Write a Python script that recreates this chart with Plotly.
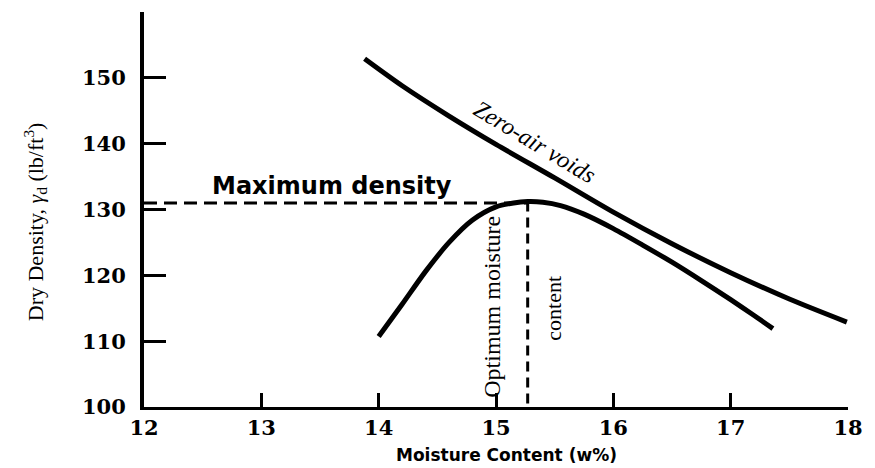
import plotly.graph_objects as go

# Compaction test data: dry density vs moisture content
moisture = [14.0, 14.2, 14.4, 14.6, 14.8, 15.0, 15.15, 15.27, 15.4, 15.55,
            15.75, 16.0, 16.25, 16.5, 16.75, 17.0, 17.2, 17.36]
dry_density = [110.7, 115.6, 120.6, 125.0, 128.4, 130.4, 131.0, 131.2, 131.1, 130.6,
               129.3, 127.1, 124.6, 122.0, 119.2, 116.3, 113.9, 111.9]

# Zero-air-voids curve
zav_moisture = [13.88, 14.2, 14.6, 15.0, 15.5, 16.0, 16.5, 17.0, 17.5, 17.99]
zav_density = [152.9, 148.8, 144.2, 139.9, 134.8, 129.6, 124.8, 120.4, 116.4, 112.9]

# Optimum point
opt_moisture = 15.27
max_density = 131.0

x_ticks = [12, 13, 14, 15, 16, 17, 18]
x_ticktext = ["12", "13", "14", "15", "16", "17", "18"]
y_ticks = [100, 110, 120, 130, 140, 150, 160]
y_ticktext = ["100", "110", "120", "130", "140", "150", ""]

fig = go.Figure()

fig.add_trace(go.Scatter(
    x=zav_moisture, y=zav_density, mode="lines",
    line=dict(color="black", width=5, shape="spline", smoothing=0.8),
    hoverinfo="skip", showlegend=False))

fig.add_trace(go.Scatter(
    x=moisture, y=dry_density, mode="lines",
    line=dict(color="black", width=5, shape="spline", smoothing=0.8),
    hoverinfo="skip", showlegend=False))

# Maximum density guide line
fig.add_trace(go.Scatter(
    x=[x_ticks[0], opt_moisture], y=[max_density, max_density], mode="lines",
    line=dict(color="black", width=3, dash="13px,7px"),
    hoverinfo="skip", showlegend=False))

# Optimum moisture guide line
fig.add_trace(go.Scatter(
    x=[opt_moisture, opt_moisture], y=[max(dry_density), y_ticks[0]], mode="lines",
    line=dict(color="black", width=3, dash="10px,6px"),
    hoverinfo="skip", showlegend=False))

label_font = dict(family="DejaVu Serif", size=21, color="black", weight="bold")

fig.update_xaxes(
    range=[12, 18], tickvals=x_ticks, ticktext=x_ticktext,
    showgrid=False, zeroline=False, showline=True, linecolor="black", linewidth=3,
    ticks="inside", ticklen=14, tickwidth=3, tickcolor="black",
    tickfont=label_font, ticklabelstandoff=0)

fig.update_yaxes(
    range=[100, 160], tickvals=y_ticks, ticktext=y_ticktext,
    showgrid=False, zeroline=False, showline=True, linecolor="black", linewidth=4,
    ticks="inside", ticklen=22, tickwidth=3, tickcolor="black",
    tickfont=label_font, ticklabelstandoff=10)

annotations = [
    dict(x=13.6, y=133.6, xref="x", yref="y", text="Maximum density",
         showarrow=False, xanchor="center", yanchor="middle",
         font=dict(family="DejaVu Sans", size=24, color="black", weight="bold")),
    dict(x=15.33, y=140.2, xref="x", yref="y", text="<i>Zero-air voids</i>",
         textangle=31, showarrow=False, xanchor="center", yanchor="middle",
         font=dict(family="Liberation Serif", size=24, color="black")),
    dict(x=14.97, y=115.3, xref="x", yref="y", text="Optimum moisture",
         textangle=-90, showarrow=False, xanchor="center", yanchor="middle",
         font=dict(family="Liberation Serif", size=24, color="black")),
    dict(x=15.49, y=115.0, xref="x", yref="y", text="content",
         textangle=-90, showarrow=False, xanchor="center", yanchor="middle",
         font=dict(family="Liberation Serif", size=22, color="black")),
    dict(x=-0.155, y=0.47, xref="paper", yref="paper",
         text="Dry Density, <i>γ</i><sub>d</sub> (lb/ft<sup>3</sup>)",
         textangle=-90, showarrow=False, xanchor="center", yanchor="middle",
         font=dict(family="Liberation Serif", size=22, color="black")),
    dict(x=0.515, y=-0.122, xref="paper", yref="paper",
         text="Moisture Content (w%)", showarrow=False,
         xanchor="center", yanchor="middle",
         font=dict(family="DejaVu Sans", size=17, color="black", weight="bold")),
]

fig.update_layout(
    width=875, height=468,
    margin=dict(l=144, r=21, t=12, b=61),
    plot_bgcolor="white", paper_bgcolor="white",
    annotations=annotations,
)

fig.write_html("out.html")
